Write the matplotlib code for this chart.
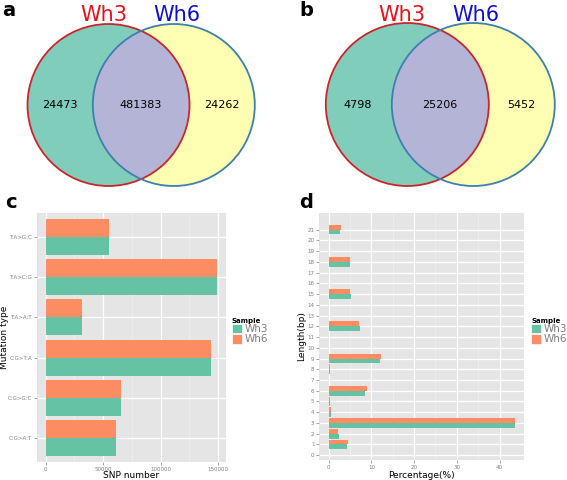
import matplotlib.pyplot as plt
import numpy as np
from matplotlib.patches import Circle, Patch

# venn counts (only Wh3, shared, only Wh6)
venn_a = [24473, 481383, 24262]
venn_b = [4798, 25206, 5452]
set_names = ['Wh3', 'Wh6']

# panel c: SNP mutation types
mut_types = ['C:G>A:T', 'C:G>G:C', 'C:G>T:A', 'T:A>A:T', 'T:A>C:G', 'T:A>G:C']
snp_wh3 = [61000, 65500, 143700, 31300, 149000, 54800]
snp_wh6 = [61000, 65500, 143700, 31300, 149000, 54800]

# panel d: indel length distribution (%)
lengths = list(range(22))
pct_wh3 = [0, 4.2, 2.3, 43.6, 0.55, 0.3, 8.6, 0.1, 0.2, 12.1, 0.1, 0.1,
           7.4, 0.1, 0.05, 5.2, 0.1, 0.1, 5.0, 0.05, 0, 2.6]
pct_wh6 = [0, 4.5, 2.2, 43.6, 0.5, 0.3, 9.0, 0.1, 0.3, 12.2, 0.1, 0.1,
           7.2, 0.1, 0.05, 5.0, 0.1, 0.1, 5.0, 0.05, 0, 2.8]

c_wh3 = '#66C2A5'
c_wh6 = '#FC8D62'

fig = plt.figure(figsize=(5.67, 4.8), dpi=100)

# ---- venn panels drawn on a pixel-coordinate overlay axes ----
va = fig.add_axes([0, 0, 1, 1])
va.set_xlim(0, 567)
va.set_ylim(480, 0)
va.axis('off')


def venn(cx1, cx2, cy, r, counts, lab_x):
    right_fill = Circle((cx2, cy), r, facecolor='#FFFFB3', edgecolor='none')
    left_fill = Circle((cx1, cy), r, facecolor='#80CDBB', edgecolor='none')
    va.add_patch(right_fill)
    va.add_patch(left_fill)
    mid = Circle((cx2, cy), r, facecolor='#B4B4D6', edgecolor='none')
    va.add_patch(mid)
    mid.set_clip_path(left_fill)
    va.add_patch(Circle((cx1, cy), r, facecolor='none', edgecolor='#C8262B', lw=1.3))
    va.add_patch(Circle((cx2, cy), r, facecolor='none', edgecolor='#3E7EB0', lw=1.3))
    for x, n in zip(lab_x, counts):
        va.text(x, cy, str(n), ha='center', va='center', fontsize=8, color='black')
    va.text(cx1 - 5, 15, set_names[0], ha='center', va='center', fontsize=15, color='#E3121B')
    va.text(cx2 + 3, 15, set_names[1], ha='center', va='center', fontsize=15, color='#1010C8')


venn(108.5, 173.8, 105, 81, venn_a, [60, 141, 222])
venn(407.3, 473.3, 104.5, 81.5, venn_b, [358, 440, 521])

for lab, x, y in [('a', 2, 10), ('b', 299, 10), ('c', 5, 202), ('d', 299, 202)]:
    va.text(x, y, lab, ha='left', va='center', fontsize=14, fontweight='bold')


def gg_axes(rect):
    ax = fig.add_axes(rect)
    ax.set_facecolor('#E5E5E5')
    for s in ax.spines.values():
        s.set_visible(False)
    ax.grid(True, which='major', color='white', lw=0.9)
    ax.grid(True, which='minor', color='#F2F2F2', lw=0.4)
    ax.set_axisbelow(True)
    ax.tick_params(which='major', length=2, width=0.5, color='#7F7F7F',
                   labelsize=4, labelcolor='#7F7F7F', pad=1.5)
    ax.tick_params(which='minor', length=0)
    return ax


# ---- panel c ----
axc = gg_axes([37 / 567, 1 - 462 / 480, 189 / 567, 249 / 480])
y = np.arange(len(mut_types))
h = 0.45
axc.barh(y - h / 2, snp_wh3, height=h, color=c_wh3, label='Wh3')
axc.barh(y + h / 2, snp_wh6, height=h, color=c_wh6, label='Wh6')
axc.set_yticks(y)
axc.set_yticklabels(mut_types)
axc.set_xticks([0, 50000, 100000, 150000])
axc.set_xticks([25000, 75000, 125000], minor=True)
axc.set_xlim(-7500, 157000)
axc.set_ylim(-0.6, 5.6)
axc.set_xlabel('SNP number', fontsize=6.5, va='center')
axc.set_ylabel('Mutation type', fontsize=6.5, va='center')
axc.xaxis.set_label_coords(0.5, -(475.5 - 462) / 249)
axc.yaxis.set_label_coords((5 - 37) / 189, 0.5)

# ---- panel d ----
axd = gg_axes([319.3 / 567, 1 - 460 / 480, 205 / 567, 247 / 480])
yl = np.array(lengths)
h = 0.45
axd.barh(yl - h / 2, pct_wh3, height=h, color=c_wh3, label='Wh3')
axd.barh(yl + h / 2, pct_wh6, height=h, color=c_wh6, label='Wh6')
axd.set_yticks(yl)
axd.set_xticks([0, 10, 20, 30, 40])
axd.set_xticks([5, 15, 25, 35], minor=True)
axd.set_xlim(-2.2, 45.8)
axd.set_ylim(-0.45, 22.55)
axd.set_xlabel('Percentage(%)', fontsize=6.5, va='center')
axd.set_ylabel('Length(bp)', fontsize=6.5, va='center')
axd.xaxis.set_label_coords(0.5, -(475.5 - 460) / 247)
axd.yaxis.set_label_coords((302 - 319.3) / 205, 0.5)

for ax, x0 in [(axc, 232 / 567), (axd, 531 / 567)]:
    handles = [Patch(facecolor=c_wh3, edgecolor='white', lw=0.5, label='Wh3'),
               Patch(facecolor=c_wh6, edgecolor='white', lw=0.5, label='Wh6')]
    leg = fig.legend(handles=handles, title='Sample', loc='upper left',
                     bbox_to_anchor=(x0, 1 - 318 / 480), frameon=False,
                     fontsize=7.5, title_fontsize=5, handlelength=1.0, handleheight=1.0,
                     handletextpad=0.2, labelspacing=0.0, borderpad=0, borderaxespad=0)
    leg.get_title().set_fontweight('bold')
    leg._legend_box.align = 'left'
    for t in leg.get_texts():
        t.set_color('#7F7F7F')

fig.savefig('out.png', dpi=100)
